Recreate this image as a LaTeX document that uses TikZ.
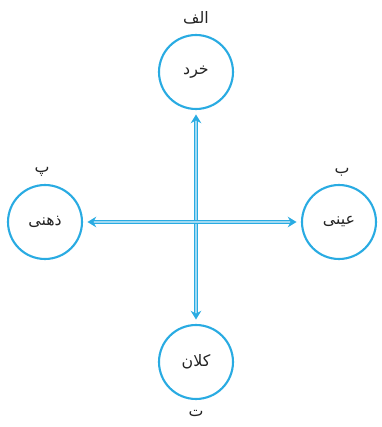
\documentclass[tikz,border=0pt]{standalone}
\usepackage{fontspec}
\newfontfamily\farsifont[Script=Arabic]{DejaVu Sans}
\TeXXeTstate=1
\usetikzlibrary{arrows.meta}
\definecolor{linkblue}{RGB}{41,171,226}
\definecolor{textgray}{RGB}{35,35,35}
\newcommand{\fa}[1]{{\farsifont\beginR #1\endR}}

\begin{document}
\begin{tikzpicture}[x=0.02cm, y=0.02cm, >=Stealth,
  sizebox/.style={circle, draw=linkblue, line width=1.2pt, minimum size=1.48cm,
    inner sep=0pt, text=textgray, font=\fontsize{9}{11}\selectfont},
  tag/.style={text=textgray, font=\fontsize{9}{11}\selectfont, inner sep=0pt},
  link/.style={{Stealth[length=5pt,width=6pt]}-{Stealth[length=5pt,width=6pt]},
    draw=linkblue, line width=0.8pt, double=linkblue!45, double distance=0.9pt,
    shorten <=2.5pt, shorten >=2.5pt}]
  \useasboundingbox (0,0) rectangle (382,427);
  % the four circles
  \node[sizebox] (small) at (196,355) {\fa{خرد}};
  \node[sizebox] (big) at (196,65) {\fa{کلان}};
  \node[sizebox] (mental) at (45,205) {\fa{ذهنی}};
  \node[sizebox] (objective) at (339,205) {\fa{عینی}};
  % letters
  \node[tag] (tagA) at (196,409) {\fa{الف}};
  \node[tag] (tagB) at (342,255) {\fa{ب}};
  \node[tag] (tagP) at (42,255) {\fa{پ}};
  \node[tag] (tagT) at (196,14) {\fa{ت}};
  % axes
  \draw[link] (small) -- (big);
  \draw[link] (mental) -- (objective);
\end{tikzpicture}
\end{document}
